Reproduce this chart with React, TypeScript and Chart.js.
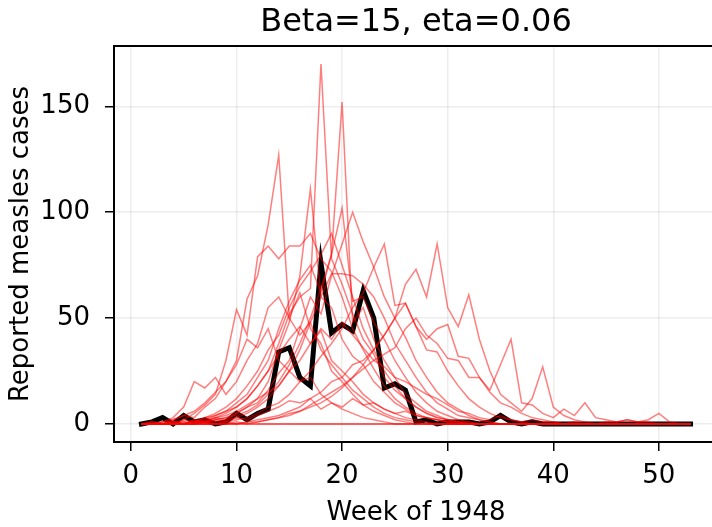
import React, { useEffect, useRef } from "react";
import { Chart, registerables } from "chart.js";

Chart.register(...registerables);

const TITLE = "Beta=15, eta=0.06";
const X_LABEL = "Week of 1948";
const Y_LABEL = "Reported measles cases";

const WEEKS = [
  1, 2, 3, 4, 5, 6, 7, 8, 9, 10, 11, 12, 13, 14, 15, 16, 17, 18, 19, 20,
  21, 22, 23, 24, 25, 26, 27, 28, 29, 30, 31, 32, 33, 34, 35, 36, 37, 38, 39, 40,
  41, 42, 43, 44, 45, 46, 47, 48, 49, 50, 51, 52, 53,
];

const X_TICKS = [0, 10, 20, 30, 40, 50];
const Y_TICKS = [0, 50, 100, 150];

const OBSERVED = [
  0, 1, 3, 0, 4, 1, 2, 0, 1, 5, 2, 5, 7, 34, 36, 22, 18, 76, 43, 47,
  44, 63, 50, 17, 19, 16, 1, 2, 0, 1, 1, 1, 0, 1, 4, 1, 0, 1, 0, 0,
  0, 0, 0, 0, 0, 0, 0, 0, 0, 0, 0, 0, 0,
];

const SIM_1 = [
  0, 0, 0, 1, 0, 2, 1, 3, 5, 8, 12, 18, 25, 38, 52, 60, 64, 170, 78, 66,
  52, 40, 33, 22, 16, 12, 8, 5, 3, 2, 1, 1, 0, 0, 0, 0, 0, 0, 0, 0,
  0, 0, 0, 0, 0, 0, 0, 0, 0, 0, 0, 0, 0,
];
const SIM_2 = [
  0, 1, 0, 0, 2, 1, 3, 4, 6, 10, 14, 22, 30, 45, 58, 68, 75, 62, 80, 152,
  48, 55, 40, 30, 22, 14, 10, 6, 4, 2, 1, 0, 0, 0, 0, 0, 0, 0, 0, 0,
  0, 0, 0, 0, 0, 0, 0, 0, 0, 0, 0, 0, 0,
];
const SIM_3 = [
  0, 0, 1, 2, 4, 3, 8, 12, 20, 30, 59, 70, 94, 127, 50, 62, 45, 38, 25, 20,
  14, 9, 6, 4, 2, 1, 0, 0, 0, 0, 0, 0, 0, 0, 0, 0, 0, 0, 0, 0,
  0, 0, 0, 0, 0, 0, 0, 0, 0, 0, 0, 0, 0,
];
const SIM_4 = [
  0, 0, 0, 1, 2, 5, 9, 14, 30, 54, 42, 79, 84, 78, 84, 84, 90, 78, 72, 60,
  45, 35, 26, 18, 12, 8, 5, 3, 2, 1, 0, 0, 0, 0, 0, 0, 0, 0, 0, 0,
  0, 0, 0, 0, 0, 0, 0, 0, 0, 0, 0, 0, 0,
];
const SIM_5 = [
  0, 0, 0, 0, 1, 0, 2, 3, 2, 5, 8, 12, 20, 35, 48, 70, 111, 60, 55, 40,
  32, 28, 20, 15, 10, 7, 4, 3, 2, 1, 0, 0, 0, 0, 0, 0, 0, 0, 0, 0,
  0, 0, 0, 0, 0, 0, 0, 0, 0, 0, 0, 0, 0,
];
const SIM_6 = [
  0, 0, 0, 1, 0, 1, 0, 2, 3, 4, 6, 9, 14, 20, 28, 38, 50, 64, 80, 102,
  58, 60, 48, 40, 30, 22, 15, 10, 6, 4, 2, 1, 0, 0, 0, 0, 0, 0, 0, 0,
  0, 0, 0, 0, 0, 0, 0, 0, 0, 0, 0, 0, 0,
];
const SIM_7 = [
  0, 0, 0, 0, 0, 1, 1, 2, 3, 5, 8, 10, 16, 24, 30, 45, 60, 52, 70, 85,
  100, 86, 74, 60, 50, 41, 30, 22, 15, 10, 7, 4, 2, 1, 0, 0, 0, 0, 0, 0,
  0, 0, 0, 0, 0, 0, 0, 0, 0, 0, 0, 0, 0,
];
const SIM_8 = [
  0, 0, 0, 0, 0, 0, 1, 0, 1, 2, 3, 5, 8, 10, 14, 20, 25, 32, 38, 45,
  55, 62, 74, 85, 56, 57, 46, 35, 34, 25, 18, 12, 8, 5, 3, 2, 1, 0, 0, 0,
  0, 0, 0, 0, 0, 0, 0, 0, 0, 0, 0, 0, 0,
];
const SIM_9 = [
  0, 0, 0, 0, 0, 0, 0, 0, 1, 0, 1, 2, 3, 4, 6, 8, 12, 15, 20, 22,
  28, 30, 35, 42, 50, 66, 73, 60, 85, 55, 46, 61, 40, 25, 14, 10, 6, 12, 27, 8,
  4, 2, 1, 0, 0, 0, 0, 0, 0, 0, 0, 0, 0,
];
const SIM_10 = [
  0, 0, 0, 0, 0, 0, 0, 0, 0, 1, 0, 1, 2, 3, 5, 6, 9, 12, 15, 18,
  22, 26, 30, 33, 36, 45, 50, 42, 38, 31, 30, 22, 22, 16, 28, 40, 10, 9, 5, 3,
  7, 4, 10, 3, 2, 1, 2, 1, 1, 0, 0, 0, 0,
];
const SIM_11 = [
  0, 0, 1, 0, 0, 2, 1, 3, 4, 6, 9, 12, 15, 18, 25, 30, 38, 45, 40, 48,
  42, 36, 30, 27, 22, 20, 17, 14, 12, 9, 6, 5, 3, 2, 4, 2, 1, 2, 1, 1,
  0, 1, 0, 0, 1, 1, 2, 1, 2, 5, 1, 0, 0,
];
const SIM_12 = [
  0, 0, 1, 3, 8, 20, 17, 22, 14, 20, 30, 38, 55, 60, 50, 42, 48, 35, 28, 22,
  16, 12, 8, 5, 3, 2, 1, 0, 0, 0, 0, 0, 0, 0, 0, 0, 0, 0, 0, 0,
  0, 0, 0, 0, 0, 0, 0, 0, 0, 0, 0, 0, 0,
];
const SIM_13 = [
  0, 0, 0, 0, 1, 0, 1, 2, 1, 3, 2, 4, 6, 8, 11, 10, 12, 7, 10, 8,
  12, 9, 10, 7, 5, 6, 4, 3, 2, 1, 1, 0, 0, 0, 0, 0, 0, 0, 0, 0,
  0, 0, 0, 0, 0, 0, 0, 0, 0, 0, 0, 0, 0,
];
const SIM_14 = [
  0, 0, 0, 0, 0, 1, 2, 4, 6, 8, 12, 18, 25, 33, 40, 46, 38, 44, 30, 25,
  20, 14, 10, 7, 5, 3, 2, 1, 0, 0, 0, 0, 0, 0, 0, 0, 0, 0, 0, 0,
  0, 0, 0, 0, 0, 0, 0, 0, 0, 0, 0, 0, 0,
];
const SIM_15 = [
  0, 0, 0, 0, 0, 0, 1, 1, 2, 3, 5, 8, 12, 18, 25, 35, 48, 60, 71, 71,
  70, 66, 60, 50, 38, 30, 22, 15, 10, 7, 4, 3, 2, 1, 0, 0, 0, 0, 0, 0,
  0, 0, 0, 0, 0, 0, 0, 0, 0, 0, 0, 0, 0,
];
const SIM_16 = [
  0, 0, 0, 0, 0, 0, 0, 0, 0, 0, 1, 1, 2, 3, 4, 6, 8, 10, 13, 17,
  22, 28, 35, 42, 50, 57, 46, 40, 45, 47, 32, 31, 22, 15, 10, 8, 5, 3, 2, 1,
  0, 0, 0, 0, 0, 0, 0, 0, 0, 0, 0, 0, 0,
];
const SIM_17 = [
  0, 0, 0, 1, 0, 1, 3, 5, 8, 12, 18, 25, 35, 42, 55, 65, 72, 80, 90, 75,
  60, 45, 35, 25, 18, 12, 8, 5, 3, 2, 1, 0, 0, 0, 0, 0, 0, 0, 0, 0,
  0, 0, 0, 0, 0, 0, 0, 0, 0, 0, 0, 0, 0,
];
const SIM_18 = [
  0, 1, 0, 2, 4, 6, 10, 15, 20, 28, 40, 36, 45, 30, 25, 20, 22, 14, 10, 7,
  5, 3, 2, 1, 0, 0, 0, 0, 0, 0, 0, 0, 0, 0, 0, 0, 0, 0, 0, 0,
  0, 0, 0, 0, 0, 0, 0, 0, 0, 0, 0, 0, 0,
];
const SIM_19 = [
  0, 0, 0, 0, 0, 0, 0, 0, 0, 0, 0, 0, 0, 0, 0, 0, 0, 0, 0, 0,
  0, 0, 0, 0, 0, 0, 0, 0, 0, 0, 0, 0, 0, 0, 0, 0, 0, 0, 0, 0,
  0, 0, 0, 0, 0, 0, 0, 0, 0, 0, 0, 0, 0,
];
const SIM_20 = [
  0, 0, 0, 0, 0, 0, 0, 0, 0, 0, 0, 0, 0, 0, 0, 0, 0, 0, 0, 0,
  0, 0, 0, 0, 0, 0, 0, 0, 0, 0, 0, 0, 0, 0, 0, 0, 0, 0, 0, 0,
  0, 0, 0, 0, 0, 0, 0, 0, 0, 0, 0, 0, 0,
];

const SIMULATIONS = [
  SIM_1, SIM_2, SIM_3, SIM_4, SIM_5, SIM_6, SIM_7, SIM_8, SIM_9, SIM_10,
  SIM_11, SIM_12, SIM_13, SIM_14, SIM_15, SIM_16, SIM_17, SIM_18, SIM_19, SIM_20,
];

const FONT = "DejaVu Sans";

const toPoints = (vals: number[]) => vals.map((v, i) => ({ x: WEEKS[i], y: v }));

const framePlugin = {
  id: "frame",
  afterLayout(chart: any) {
    const tb = chart.titleBlock;
    if (tb) {
      tb.left = chart.chartArea.left;
      tb.right = chart.chartArea.right;
      tb.width = chart.chartArea.right - chart.chartArea.left;
    }
  },
  afterDatasetsDraw(chart: any) {
    const { ctx, chartArea } = chart;
    ctx.save();
    ctx.strokeStyle = "#000";
    ctx.lineWidth = 2;
    ctx.strokeRect(chartArea.left, chartArea.top, chartArea.right - chartArea.left, chartArea.bottom - chartArea.top);
    ctx.restore();
  },
};

export default function App() {
  const ref = useRef<HTMLCanvasElement | null>(null);

  useEffect(() => {
    document.documentElement.style.overflow = "hidden";
    document.body.style.overflow = "hidden";
    document.body.style.margin = "0";
    const canvas = ref.current;
    if (!canvas) return;

    const simSets = SIMULATIONS.map((s, i) => ({
      label: "sim" + (i + 1),
      data: toPoints(s),
      borderColor: "rgba(255,0,0,0.5)",
      borderWidth: 1.5,
      pointRadius: 0,
      tension: 0,
      fill: false,
    }));

    const chart = new Chart(canvas, {
      type: "line",
      data: {
        datasets: [
          ...simSets,
          {
            label: "observed",
            data: toPoints(OBSERVED),
            borderColor: "#000",
            borderWidth: 5,
            borderCapStyle: "square",
            pointRadius: 0,
            tension: 0,
            fill: false,
          },
        ],
      },
      options: {
        animation: false,
        responsive: false,
        devicePixelRatio: 1,
        events: [],
        layout: { padding: { left: 0, right: 2, top: 0, bottom: 0 } },
        plugins: {
          legend: { display: false },
          tooltip: { enabled: false },
          title: {
            display: true,
            text: TITLE,
            color: "#000",
            font: { family: FONT, size: 32, weight: "normal" },
            padding: { top: 3, bottom: 4.6 },
          },
        },
        scales: {
          x: {
            type: "linear",
            min: -1.6,
            max: 55.6,
            afterBuildTicks: (s: any) => {
              s.ticks = X_TICKS.map((v) => ({ value: v }));
            },
            afterFit: (s: any) => {
              s.height = 85;
            },
            border: { display: false },
            grid: {
              color: "rgba(0,0,0,0.07)",
              lineWidth: 1.5,
              drawTicks: true,
              tickLength: 9,
              tickColor: "#000",
              tickWidth: 1.5,
            },
            ticks: {
              color: "#000",
              font: { family: FONT, size: 26 },
              padding: 10,
              maxRotation: 0,
              autoSkip: false,
              callback: (v: any) => String(v),
            },
            title: {
              display: true,
              text: X_LABEL,
              color: "#000",
              font: { family: FONT, size: 26 },
              padding: { top: 0, bottom: -2 },
            },
          },
          y: {
            type: "linear",
            min: -8.5,
            max: 178.5,
            afterBuildTicks: (s: any) => {
              s.ticks = Y_TICKS.map((v) => ({ value: v }));
            },
            afterFit: (s: any) => {
              s.width = 114;
            },
            border: { display: false },
            grid: {
              color: "rgba(0,0,0,0.07)",
              lineWidth: 1.5,
              drawTicks: true,
              tickLength: 9,
              tickColor: "#000",
              tickWidth: 1.5,
            },
            ticks: {
              color: "#000",
              font: { family: FONT, size: 26 },
              padding: 15,
              autoSkip: false,
              callback: (v: any) => String(v),
            },
            title: {
              display: true,
              text: Y_LABEL,
              color: "#000",
              font: { family: FONT, size: 26 },
              padding: { top: 6, bottom: 0 },
            },
          },
        },
      },
      plugins: [framePlugin],
    } as any);

    return () => chart.destroy();
  }, []);

  return (
    <div style={{ position: "fixed", left: 0, top: 0, width: 720, height: 527, background: "#fff" }}>
      <canvas ref={ref} width={720} height={527} style={{ display: "block", width: 720, height: 527 }} />
    </div>
  );
}
